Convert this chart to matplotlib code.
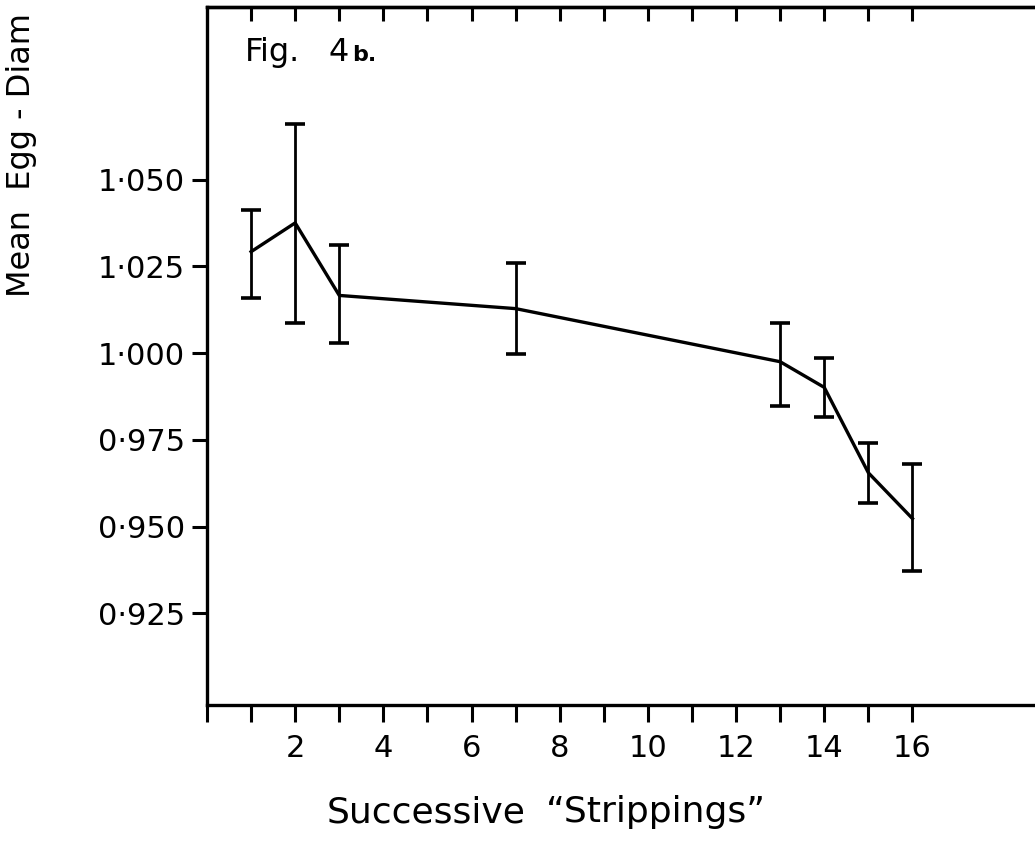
import numpy as np
import matplotlib
matplotlib.use("Agg")
import matplotlib.pyplot as plt

# 讀圖估值：每次 stripping 的平均卵徑與誤差棒上下端
stripping = [1, 2, 3, 7, 13, 14, 15, 16]
mean_diam = [1.0292, 1.0375, 1.0166, 1.0128, 0.9975, 0.9901, 0.9655, 0.9523]
err_high = [1.0413, 1.0660, 1.0311, 1.0259, 1.0088, 0.9985, 0.9742, 0.9680]
err_low = [1.0160, 1.0087, 1.0029, 0.9997, 0.9846, 0.9815, 0.9568, 0.9372]

ytick_vals = [0.925, 0.950, 0.975, 1.000, 1.025, 1.050]
ytick_labels = ["0·925", "0·950", "0·975", "1·000", "1·025", "1·050"]
xtick_major = [2, 4, 6, 8, 10, 12, 14, 16]
xtick_minor = [0, 1, 3, 5, 7, 9, 11, 13, 15]
top_ticks = list(range(1, 17))

plt.rcParams["font.family"] = ["DejaVu Sans"]

W, H = 1035, 846
fig = plt.figure(figsize=(W / 100, H / 100), dpi=100)
ax = fig.add_axes([0.2, 0.1667, 0.852, 0.825])

m = np.array(mean_diam)
yerr = [m - np.array(err_low), np.array(err_high) - m]
ax.errorbar(stripping, mean_diam, yerr=yerr, color="black", linewidth=2.4,
            elinewidth=2.0, capsize=7, capthick=2.6, zorder=3)

ax.set_xlim(0, 20)
ax.set_ylim(0.8986, 1.0997)

ax.set_yticks(ytick_vals, ytick_labels)
ax.set_xticks(xtick_major, [str(v) for v in xtick_major])
ax.set_xticks(xtick_minor, minor=True)

ax.tick_params(axis="y", direction="out", length=11, width=2.2, pad=5,
               labelsize=22)
ax.tick_params(axis="x", which="both", direction="out", length=12, width=2.2,
               pad=9, labelsize=22)
ax.tick_params(axis="x", which="minor", labelbottom=False)

for s in ax.spines.values():
    s.set_linewidth(2.4)

top = ax.secondary_xaxis("top")
top.set_xticks(top_ticks)
top.tick_params(direction="in", length=10, width=2.2, labeltop=False)
top.spines["top"].set_linewidth(2.4)

# 圖內標題 "Fig. 4b."（b. 較小）
fig.text(245 / W, 1 - 61 / H, "Fig.", fontsize=23, ha="left", va="baseline")
fig.text(329 / W, 1 - 61 / H, "4", fontsize=23, ha="left", va="baseline")
fig.text(352 / W, 1 - 61 / H, "b.", fontsize=16, ha="left", va="baseline",
         fontweight="bold")

fig.text(22 / W, 1 - 297 / H, "Mean  Egg - Diam", rotation=90,
         ha="center", va="bottom", fontsize=23)
fig.text(327 / W, 1 - 822 / H, "Successive", ha="left", va="baseline",
         fontsize=26)
fig.text(766 / W, 1 - 822 / H, "\u201cStrippings\u201d", ha="right",
         va="baseline", fontsize=26)

fig.savefig("out.png", dpi=100, facecolor="white")
